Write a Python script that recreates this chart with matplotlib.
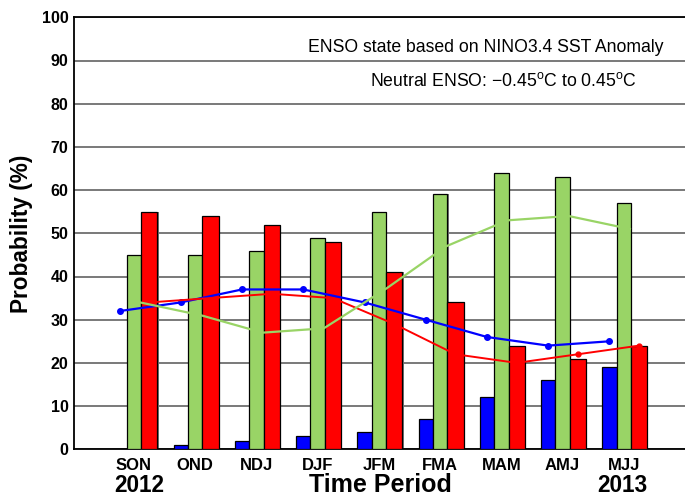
import matplotlib
matplotlib.use("Agg")
import matplotlib.pyplot as plt
import numpy as np

plt.rcParams['font.family'] = ['Liberation Sans', 'DejaVu Sans']
plt.rcParams['mathtext.fontset'] = 'custom'
plt.rcParams['mathtext.rm'] = 'Liberation Sans'

seasons = ["SON", "OND", "NDJ", "DJF", "JFM", "FMA", "MAM", "AMJ", "MJJ"]
la_nina = [0, 1, 2, 3, 4, 7, 12, 16, 19]
neutral = [45, 45, 46, 49, 55, 59, 64, 63, 57]
el_nino = [55, 54, 52, 48, 41, 34, 24, 21, 24]
clim_la_nina = [32, 34, 37, 37, 34, 30, 26, 24, 25]
clim_neutral = [34, 31, 27, 28, 37, 47, 53, 54, 51]
clim_el_nino = [34, 35, 36, 35, 29, 22, 20, 22, 24]
yticks = [0, 10, 20, 30, 40, 50, 60, 70, 80, 90, 100]

W, H = 685, 497
fig = plt.figure(figsize=(W / 100, H / 100), dpi=100)
ax = fig.add_axes([74 / W, (H - 449.3) / H, 1 - 74 / W, (449.3 - 17.3) / H])

x = np.arange(len(seasons))
w = 0.235
blue, green, red = '#0000ff', '#99d466', '#ff0000'

for vals, off, col in [(la_nina, -w, blue), (neutral, 0, green), (el_nino, w + 0.015, red)]:
    bw = w if col != red else w + 0.03
    # shadow
    ax.bar(x + off + 0.02, vals, width=bw, color='#777777', edgecolor='none', zorder=2)
    ax.bar(x + off, vals, width=bw, color=col, edgecolor='black', linewidth=0.9, zorder=3)

ax.plot(x - w, clim_la_nina, color=blue, lw=1.6, marker='o', ms=4, zorder=4)
ax.plot(x + w + 0.015, clim_el_nino, color=red, lw=1.4, zorder=4)
ax.plot(x[-2:] + w + 0.015, clim_el_nino[-2:], color=red, lw=0, marker='o', ms=3.5, zorder=4)
ax.plot(x + 0.1, clim_neutral, color=green, lw=1.6, zorder=4)

ax.set_xlim(-0.98, 9.0)
ax.set_ylim(0, 100)
ax.set_yticks(yticks)
ax.set_yticklabels([str(t) for t in yticks], fontsize=11.5, fontweight='bold')
ax.set_xticks(x)
ax.set_xticklabels(seasons, fontsize=12, fontweight='bold')
ax.tick_params(axis='y', length=0, pad=4)
ax.tick_params(axis='x', length=0, pad=6)
ax.yaxis.grid(True, color='#555555', lw=1.1, zorder=1)
ax.set_axisbelow(True)
for s in ['left', 'bottom', 'top']:
    ax.spines[s].set_linewidth(1.3)
    ax.spines[s].set_color('black')
ax.spines['right'].set_visible(False)

fig.text(22 / W, 1 - 234 / H, 'Probability (%)', fontsize=16.3, fontweight='bold',
         rotation=90, ha='center', va='center')

fig.text(380 / W, 1 - 492 / H, 'Time Period', fontsize=18, fontweight='bold', ha='center', va='baseline')
fig.text(139 / W, 1 - 492 / H, '2012', fontsize=16.3, fontweight='bold', ha='center', va='baseline')
fig.text(622 / W, 1 - 492 / H, '2013', fontsize=16.3, fontweight='bold', ha='center', va='baseline')

fig.text(663 / W, 1 - 47 / H, 'ENSO state based on NINO3.4 SST Anomaly', fontsize=12.7, ha='right', va='center')
fig.text(637 / W, 1 - 81 / H, r'Neutral ENSO: $-$0.45$^{\mathrm{o}}$C to 0.45$^{\mathrm{o}}$C',
         fontsize=12.7, ha='right', va='center')

fig.savefig('out.png', dpi=100)
